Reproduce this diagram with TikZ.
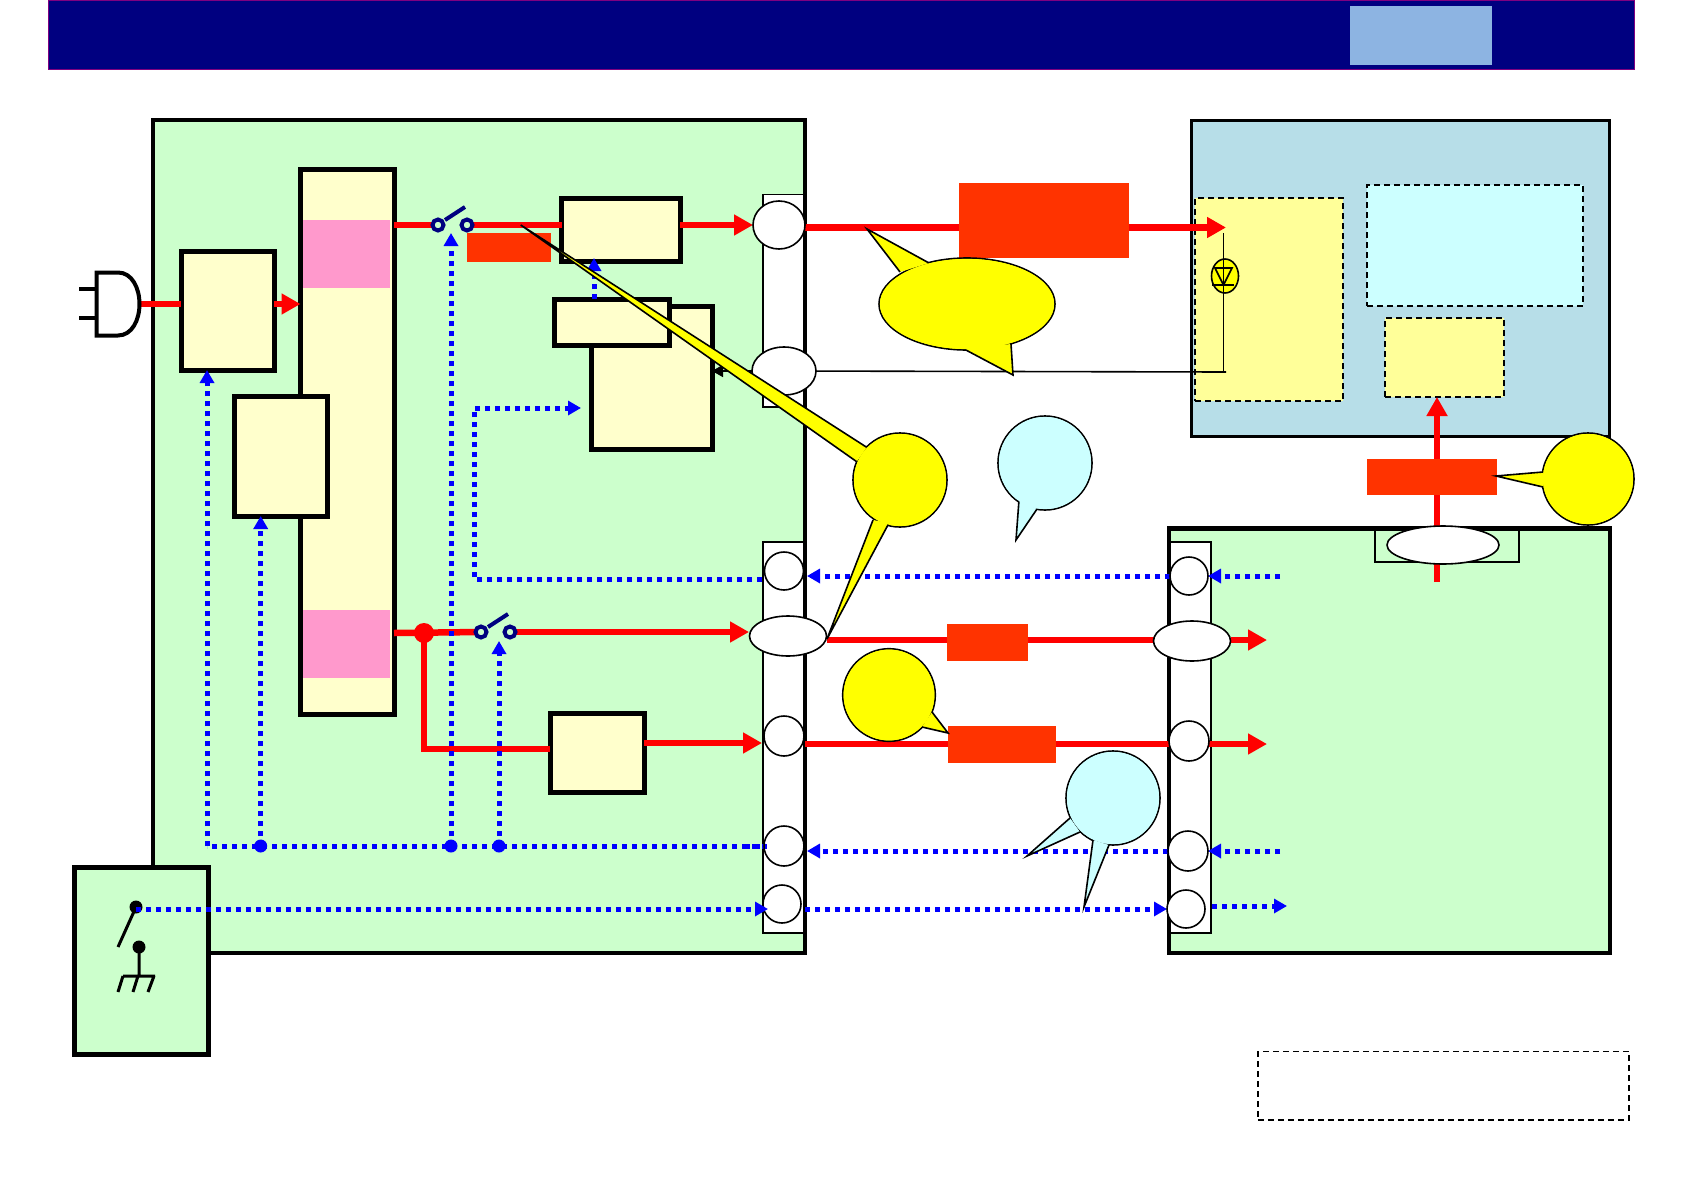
\documentclass[tikz,border=0pt]{standalone}
\usetikzlibrary{arrows.meta,shapes.geometric}
\definecolor{navyb}{HTML}{000080}
\definecolor{paleb}{HTML}{8DB4E2}
\definecolor{grn}{HTML}{CCFFCC}
\definecolor{cream}{HTML}{FFFFCC}
\definecolor{pinkb}{HTML}{FF99CC}
\definecolor{teal}{HTML}{B7DEE8}
\definecolor{ylw}{HTML}{FFFF99}
\definecolor{cyn}{HTML}{CCFFFF}
\definecolor{org}{HTML}{FF3300}
\definecolor{brd}{HTML}{800080}
\definecolor{yel}{HTML}{FFFF00}
\definecolor{redd}{HTML}{FF0000}
\definecolor{blu}{HTML}{0000FF}
\newcommand\rectnode[6]{\node[#2,rectangle,inner sep=0pt,outer sep=0pt,minimum width={(#5-#3)*1pt},minimum height={(#6-#4)*1pt}] (#1) at ({(#3+#5)/2},{(#4+#6)/2}) {};}
\newcommand\ovalnode[5]{\node[#2,ellipse,inner sep=0pt,outer sep=0pt,minimum width={2*(#5)*1pt},minimum height={2*(#5)*1pt}] (#1) at (#3,#4) {};}
\newcommand\ovalnodexy[6]{\node[#2,ellipse,inner sep=0pt,outer sep=0pt,minimum width={2*(#5)*1pt},minimum height={2*(#6)*1pt}] (#1) at (#3,#4) {};}
% name, fill, cx, cy, rx, ry, tails
\newcommand\calloutshape[7]{%
  \draw[thinline,fill=#2] (#3,#4) ellipse [x radius=#5,y radius=#6];
  \node[inner sep=0pt,outer sep=0pt] (#1) at (#3,#4) {};
  #7
  \fill[#2] (#3,#4) ellipse [x radius=#5-0.9,y radius=#6-0.9];}
\tikzset{
  boxa/.style={draw=black,line width=5pt,fill=cream},
  bigg/.style={draw=black,line width=4.5pt,fill=grn},
  conn/.style={draw=black,line width=1.6pt,fill=white},
  port/.style={draw=black,line width=1.6pt,fill=white},
  blk/.style={fill=org,draw=none},
  dashbox/.style={draw=black,line width=1.5pt,dash pattern=on 6pt off 4pt},
  thinline/.style={draw=black,line width=1.6pt},
  redl/.style={draw=redd,line width=6.5pt},
  reda/.style={redl,-{Triangle[length=19pt,width=20pt]}},
  blued/.style={draw=blu,line width=5pt,dash pattern=on 5pt off 5pt},
  bluea/.style={blued,-{Triangle[length=13pt,width=14pt]}},
  swc/.style={draw=navyb,line width=4pt,fill=grn,circle,inner sep=0pt,outer sep=0pt,minimum size=11pt},
}
\begin{document}
\begin{tikzpicture}[x=1pt,y=-1pt]
\useasboundingbox (0,0) rectangle (1684,1191);
% header
\rectnode{hdr}{fill=navyb,draw=brd,line width=0.8pt}{48.5}{0}{1634.5}{69}
\rectnode{hdrb}{fill=paleb}{1350}{6}{1492}{65}
% main panels
\rectnode{lg}{bigg}{153}{120}{805}{953}
\rectnode{rb}{fill=teal,draw=black,line width=3pt}{1191}{120}{1609.5}{436}
\rectnode{rg}{bigg}{1169}{528.5}{1610}{953}
% dashed boxes
\rectnode{dy}{dashbox,fill=ylw}{1195}{198}{1343}{401}
\rectnode{dc}{dashbox,fill=cyn}{1367}{185}{1583}{306}
\rectnode{dz}{dashbox,fill=ylw}{1385}{318}{1504}{397}
\rectnode{note}{dashbox}{1258}{1051.5}{1629}{1120}
% connector strips
\rectnode{st1}{conn}{763}{194.5}{805}{407}
\rectnode{st2}{conn}{763}{542}{805}{933}
\rectnode{st3}{conn}{1169}{542}{1211}{933}
\draw[black,line width=4.5pt] (lg.north east) -- (lg.south east);
\draw[black,line width=4.5pt] (rg.north west) -- (rg.south west);
% tall bar
\rectnode{bar}{boxa}{300.5}{169}{394}{714}
\rectnode{pk1}{fill=pinkb}{303}{220}{390}{288}
\rectnode{pk2}{fill=pinkb}{303}{610}{390}{678}
% boxes
\rectnode{bxa}{boxa}{181}{251}{274}{370}
\rectnode{bxb}{boxa}{234}{396.5}{327.5}{516}
\rectnode{bxc}{boxa}{561.5}{198.5}{680}{261.5}
\rectnode{bxe}{boxa}{591.5}{306}{712}{449.5}
\rectnode{bxd}{boxa}{554.5}{299}{669}{345.5}
\rectnode{bxf}{boxa}{550}{713.5}{644}{792}
\rectnode{fuse}{blk}{467}{233}{551}{262}
% coordinates
\coordinate (bus0) at (207,846);
\coordinate (pin) at (136,909);
\coordinate (sw1) at (438,225);
\coordinate (sw2) at (467,225);
\coordinate (sw3) at (481,632);
\coordinate (sw4) at (510,632);
\coordinate (jr) at (424,633);
\coordinate (dtop) at (1223.5,233);
\coordinate (dbot) at (1223.5,372);
\coordinate (tipv) at (1437,397);
\coordinate (startv) at (1437,582);
% ports as names for connectors (positions; drawn later over the lines)
\ovalnodexy{c1}{}{779}{225}{26}{24}
\ovalnodexy{c2}{}{784}{371}{32}{24}
\ovalnodexy{la}{}{784}{571}{19.5}{19}
\ovalnodexy{lb}{}{788}{636}{38.5}{20}
\ovalnode{lc}{}{784}{736}{20}
\ovalnode{ld}{}{784}{846}{20}
\ovalnode{le}{}{782}{904}{19}
\ovalnode{ra}{}{1189}{576}{19}
\ovalnodexy{rbb}{}{1192}{641}{38.5}{20}
\ovalnode{rc}{}{1189}{741}{20}
\ovalnode{rd}{}{1188}{851}{20}
\ovalnode{re}{}{1186}{909}{19}
% plug
\draw[redl] (139.5,304) -- (bxa.west |- 0,304);
\draw[black,line width=4pt,fill=white] (118,272.5) -- (96.5,272.5) -- (96.5,335.5) -- (118,335.5) .. controls (132,335.5) and (139.5,320) .. (139.5,304) .. controls (139.5,288) and (132,272.5) .. (118,272.5) -- cycle;
\draw[black,line width=4pt] (79,289) -- (96.5,289) (79,318) -- (96.5,318);
\draw[reda] (bxa.east |- 0,304) -- (bar.west |- 0,304);
% red lines left
\draw[redl] (bar.east |- sw1) -- (sw1);
\draw[redl] (sw2) -- (bxc.west |- sw2);
\draw[reda] (bxc.east |- c1) -- (c1.west);
\draw[redl] (bar.east |- jr) -- (sw3);
\draw[reda] (sw4) -- (749,632);
\draw[redl,line join=miter] (jr) -- (424,749) -- (bxf.west |- 0,749);
\draw[reda] (bxf.east |- 0,743) -- (762,743);
\fill[redd] (jr) circle (10);
% red top
\draw[reda] (805,227.5) -- (1226,227.5);
\rectnode{rtop}{blk}{959}{183}{1129}{258}
% red vertical
\draw[reda] (startv) -- (tipv);
\rectnode{rvb}{blk}{1367}{458.5}{1497}{495}
\rectnode{st4}{draw=black,line width=1.2pt}{1375}{528}{1519}{562}
% red horizontals
\draw[redl] (lb.east |- 0,640) -- (rbb.west |- 0,640);
\rectnode{rm1}{blk}{947}{624}{1028}{661}
\draw[reda] (rbb.east |- 0,640) -- (1267,640);
\draw[redl] (805,744) -- (1169,744);
\rectnode{rm2}{blk}{948}{726}{1056}{763}
\draw[reda] (rc.east |- 0,744) -- (1267,744);
% blue lines
\draw[bluea] (ra.west |- 0,576) -- (807,576);
\draw[bluea] (1280,576) -- (1208,576);
\draw[bluea] (rd.west |- 0,851) -- (807,851);
\draw[bluea] (1280,851) -- (1208,851);
\draw[blued] (767,846) -- (bus0);
\draw[bluea] (bus0) -- (bxa.south -| bus0);
\draw[bluea] (260.7,846) -- (bxb.south -| 260.7,0);
\draw[bluea] (451,846) -- (451,233);
\draw[bluea] (499,846) -- (499,641);
\draw[bluea] (762,579) -- (474,579) -- (474,408) -- (581,408);
\draw[bluea] (bxd.north -| 594,0) -- (594,258);
\draw[bluea] (805,909) -- (re.west |- 0,909);
\draw[bluea] (1212,906) -- (1287,906);
\fill[blu] (260.7,846) circle (6.5) (451,846) circle (6.5) (499,846) circle (6.5);
% thin sense line
\draw[thinline,-{Triangle[length=11pt,width=12pt]}] (c2.center) -- (bxe.east |- c2);
\draw[thinline] (c2.center) -- (1226,372);
\draw[thinline] (dbot) -- (dtop);
% diode
\ovalnodexy{diode}{draw=black,line width=1.6pt,fill=yel}{1225}{276}{13.5}{17}
\draw[thinline] (1215,268) -- (1232,268) -- (1223.5,285) -- cycle;
\draw[black,line width=2.6pt] (1212,285) -- (1234,285);
\draw[thinline] (diode.north -| dtop) -- (diode.south -| dtop);
% ports drawn
\foreach \cx/\cy/\rx/\ry in {779/225/26/24,784/371/32/24,784/571/19.5/19,788/636/38.5/20,784/736/20/20,784/846/20/20,782/904/19/19,1189/576/19/19,1192/641/38.5/20,1189/741/20/20,1188/851/20/20,1186/909/19/19,1443/545/56/19}
  {\draw[port] (\cx,\cy) ellipse [x radius=\rx,y radius=\ry];}
% switches
\node[swc] (s1) at (sw1) {};
\node[swc] (s2) at (sw2) {};
\draw[navyb,line width=4pt] (s1) ++(7,-5) -- (465,207);
\node[swc] (s3) at (sw3) {};
\node[swc] (s4) at (sw4) {};
\draw[navyb,line width=4pt] (s3) ++(7,-5) -- (508,614);
% remote box
\rectnode{rem}{boxa,fill=grn}{74.5}{867.5}{208}{1054.5}
\draw[black,line width=3pt] (136,907) -- (118,947);
\fill[black] (136,907) circle (6.5);
\fill[black] (139,947) circle (6.5);
\draw[black,line width=3pt] (139,947) -- (139,976) (123,976) -- (155,976) (123,976) -- (118,992) (138,976) -- (133,992) (154,976) -- (148,992);
\draw[bluea] (pin) -- (768,909);
\draw[blued] (745,846) -- (767,846);
% callouts
\calloutshape{cyb}{yel}{967}{304}{88}{46}{%
  \draw[thinline,fill=yel] (929,263) -- (867,229) -- (900,272);
  \draw[thinline,fill=yel] (964,349) -- (1013,375) -- (1011,344);}
\calloutshape{cya}{yel}{900}{480}{47}{47}{%
  \draw[thinline,fill=yel] (866.7,447.3) -- (520.7,225) -- (856.7,461.7);
  \draw[thinline,fill=yel] (889,523) -- (827,639) -- (873,520);}
\calloutshape{cyr}{yel}{1588}{479}{46}{46}{%
  \draw[thinline,fill=yel] (1543,472) -- (1496,476) -- (1543,487);}
\calloutshape{cct}{cyn}{1045}{463}{47}{47}{%
  \draw[thinline,fill=cyn] (1019,500) -- (1016,540) -- (1037,509);}
\calloutshape{cym}{yel}{889}{695}{46.3}{46.3}{%
  \draw[thinline,fill=yel] (932,712) -- (948,733) -- (922,727);}
\calloutshape{ccb}{cyn}{1113}{798}{47}{47}{%
  \draw[thinline,fill=cyn] (1070,818) -- (1027,856) -- (1080,832);
  \draw[thinline,fill=cyn] (1093,840) -- (1084,907) -- (1109,845);}
\end{tikzpicture}
\end{document}
